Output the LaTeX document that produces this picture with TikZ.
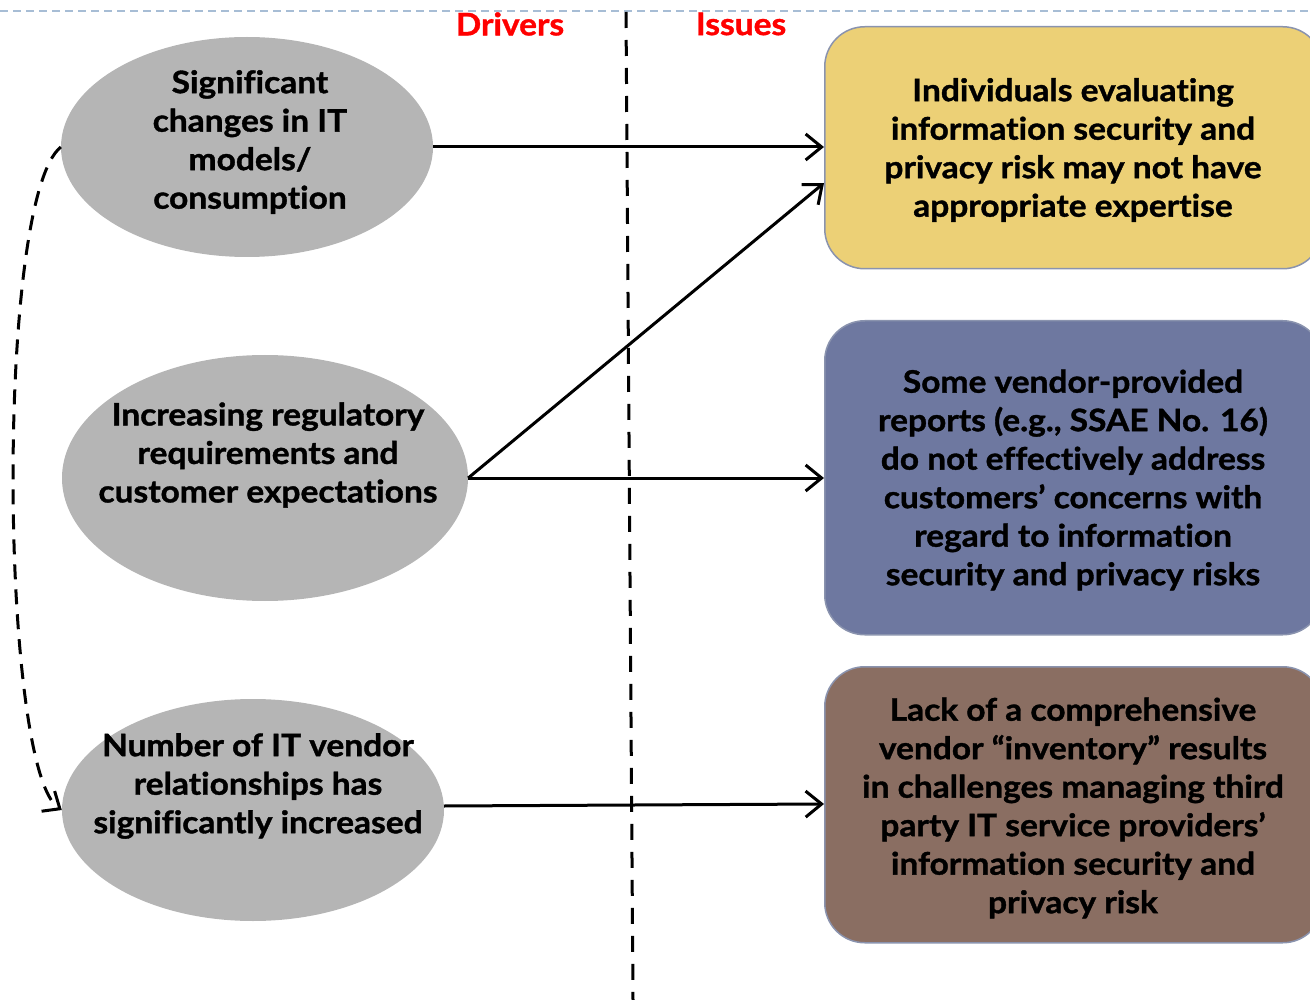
\documentclass[tikz,border=0pt]{standalone}
\usepackage{fontspec}
\setmainfont{Lato}[FakeStretch=1.08, Ligatures=NoCommon, BoldFeatures={FakeBold=1.2}]
\usetikzlibrary{shapes.geometric,arrows.meta}
\definecolor{ellgray}{HTML}{B5B5B5}
\definecolor{boxyellow}{HTML}{ECD076}
\definecolor{boxblue}{HTML}{6E78A0}
\definecolor{boxbrown}{HTML}{8A6E62}
\definecolor{boxedge}{HTML}{8A93AE}
\definecolor{topline}{HTML}{A7BDD5}
\tikzset{
  driver/.style={ellipse, fill=ellgray, draw=none, inner sep=0pt},
  issue/.style={rounded corners=40pt, draw=boxedge, line width=1.5pt, minimum width=498pt, anchor=north west, inner sep=0pt},
  txt/.style={font=\bfseries\fontsize{31}{38.5}\selectfont, align=center, inner sep=0pt},
  conn/.style={line width=3pt, -{Straight Barb[length=16pt,width=26pt,line width=3pt]}},
  head/.style={font=\bfseries\fontsize{31}{34}\selectfont, text=red, inner sep=0pt}
}
\begin{document}
\begin{tikzpicture}[x=1pt,y=-1pt]
\useasboundingbox (0,0) rectangle (1310,1000);
\clip (0,0) rectangle (1310,1000);
% top dashed line
\draw[topline, line width=2pt, dash pattern=on 8pt off 5pt] (0,11) -- (1310,11);
% vertical divider
\coordinate (vtop) at (626,12);
\coordinate (vbot) at (633,1000);
\draw[line width=3pt, dash pattern=on 16pt off 12pt] (vtop) -- (vbot);
% headings
\node[head] (drivers) at (510,24) {Drivers};
\node[head] (issues) at (741,24) {Issues};
% ellipses
\node[driver, minimum width=372pt, minimum height=220pt] (e1) at (247,147) {};
\node[driver, minimum width=406pt, minimum height=246pt] (e2) at (265,478) {};
\node[driver, minimum width=382pt, minimum height=222pt] (e3) at (253,810) {};
\node[txt] (t1) at (250,142) {Significant\\changes in IT\\models/\\consumption};
\node[txt] (t2) at (268,455) {Increasing regulatory\\requirements and\\customer expectations};
\node[txt] (t3) at (258,786) {Number of IT vendor\\relationships has\\significantly increased};
% boxes
\node[issue, fill=boxyellow, minimum height=242pt] (b1) at (824,26) {};
\node[issue, fill=boxblue, minimum height=314pt] (b2) at (824,320) {};
\node[issue, fill=boxbrown, minimum height=276pt] (b3) at (824,666) {};
\node[txt] (bt1) at (1073,150) {Individuals evaluating\\information security and\\privacy risk may not have\\appropriate expertise};
\node[txt] (bt2) at (1073,480) {Some vendor-provided\\reports (e.g., SSAE No. 16)\\do not effectively address\\customers’ concerns with\\regard to information\\security and privacy risks};
\node[txt] (bt3) at (1073,808) {Lack of a comprehensive\\vendor “inventory” results\\in challenges managing third\\party IT service providers’\\information security and\\privacy risk};
% connectors
\coordinate (b1in) at (b1.west |- 0,183);
\draw[conn] (e1.east) -- (b1.west |- e1.east);
\draw[conn] (e2.east) -- (b1in);
\draw[conn] (e2.east) -- (b2.west |- e2.east);
\draw[conn] (e3.east |- 0,806) -- (b3.west |- 0,804);
% dashed curve
\draw[line width=3pt, dash pattern=on 15pt off 10pt, -{Straight Barb[length=14pt,width=24pt,line width=3pt]}]
  (e1.west) .. controls (-5,200) and (0,770) .. (e3.west);
\end{tikzpicture}
\end{document}
